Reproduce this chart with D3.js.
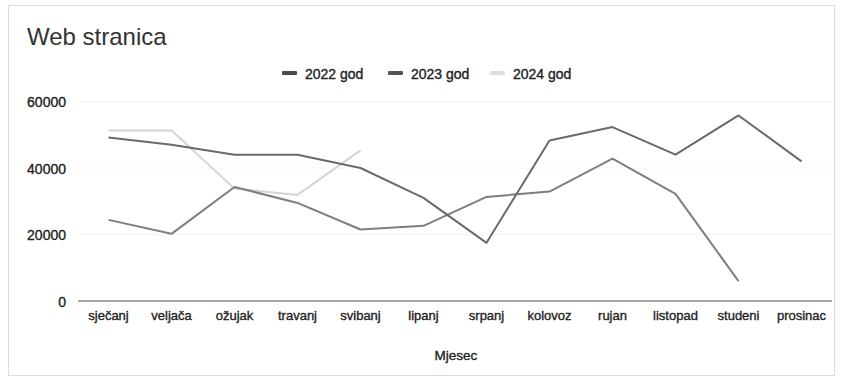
<!DOCTYPE html>
<html>
<head>
<meta charset="utf-8">
<script src="https://cdn.jsdelivr.net/npm/d3@7/dist/d3.min.js"></script>
<style>
  html, body { margin: 0; padding: 0; background: #fff; }
  svg { display: block; font-family: "Liberation Sans", Arial, sans-serif; }
  .lbl { stroke: #222; stroke-width: 0.35px; }
</style>
</head>
<body>
<svg id="chart" width="842" height="380"></svg>
<script>
// Monthly visits to the website, one series per year
const months = ["sječanj", "veljača", "ožujak", "travanj", "svibanj", "lipanj",
                "srpanj", "kolovoz", "rujan", "listopad", "studeni", "prosinac"];
const seriesNames = ["2022 god", "2023 god", "2024 god"];
const values2022 = [49200, 47000, 44000, 44000, 40000, 31000, 17500, 48300, 52300, 44000, 55800, 42000];
const values2023 = [24400, 20200, 34300, 29500, 21500, 22600, 31300, 32900, 42800, 32200, 6000, null];
const values2024 = [51300, 51300, 33800, 31900, 45300, null, null, null, null, null, null, null];
const seriesColors = ["#6a6a6a", "#7e7e7e", "#d4d4d4"];
const legendColors = ["#4a4a4a", "#555555", "#dedede"];
const yTicks = [0, 20000, 40000, 60000];

const svg = d3.select("#chart");
const W = 842, H = 380;

// frame
svg.append("rect")
  .attr("x", 8.5).attr("y", 5.5)
  .attr("width", W - 16).attr("height", H - 10)
  .attr("fill", "#fff").attr("stroke", "#dcdcdc");

const x = d3.scaleBand().domain(months).range([77, 833]);
const y = d3.scaleLinear().domain([0, 60000]).range([301, 101.5]);

// title
svg.append("text")
  .attr("x", 27).attr("y", 45)
  .attr("font-size", 24).attr("fill", "#333")
  .text("Web stranica");

// legend
const legendX = [282, 388, 490];
const legend = svg.append("g");
seriesNames.forEach((name, i) => {
  const g = legend.append("g").attr("transform", `translate(${legendX[i]},73)`);
  g.append("rect").attr("x", 0).attr("y", -2).attr("width", 15).attr("height", 4)
    .attr("rx", 1).attr("fill", legendColors[i]);
  g.append("text").attr("class", "lbl").attr("x", 23).attr("y", 5.5)
    .attr("font-size", 14).attr("fill", "#222").text(name);
});

// gridlines
svg.append("g")
  .selectAll("line")
  .data(yTicks.filter(d => d > 0))
  .join("line")
  .attr("x1", 78).attr("x2", 832)
  .attr("y1", d => y(d)).attr("y2", d => y(d))
  .attr("stroke", "#f3f3f3");

// y axis labels
const yAxis = d3.axisLeft(y).tickValues(yTicks).tickSize(0).tickPadding(0)
  .tickFormat(d3.format("d"));
svg.append("g")
  .attr("transform", "translate(66,0)")
  .call(yAxis)
  .call(g => g.select(".domain").remove())
  .call(g => g.selectAll("text")
    .attr("class", "lbl")
    .attr("font-size", 14)
    .attr("font-family", "Liberation Sans, Arial, sans-serif")
    .attr("fill", "#222").attr("dy", "0.36em"));

// x axis
const xAxis = d3.axisBottom(x).tickSize(0).tickPadding(0);
svg.append("g")
  .attr("transform", `translate(0,${y(0)})`)
  .call(xAxis)
  .call(g => g.select(".domain").attr("d", "M78,0H832").attr("stroke", "#888").attr("stroke-width", 1.5))
  .call(g => g.selectAll("text")
    .attr("class", "lbl")
    .attr("font-size", 13)
    .attr("font-family", "Liberation Sans, Arial, sans-serif")
    .attr("fill", "#222").attr("y", 19).attr("dy", 0));

svg.append("text")
  .attr("class", "lbl")
  .attr("x", 456).attr("y", 360)
  .attr("text-anchor", "middle")
  .attr("font-size", 13.5).attr("fill", "#222")
  .text("Mjesec");

// lines
const cx = d => x(d) + x.bandwidth() / 2;
const line = d3.line()
  .defined(d => d.v !== null)
  .x(d => cx(d.m))
  .y(d => y(d.v));

const allSeries = [values2022, values2023, values2024];
// draw lighter series first so the darker lines sit on top
[2, 1, 0].forEach(i => {
  const data = months.map((m, j) => ({ m, v: allSeries[i][j] }));
  svg.append("path")
    .datum(data)
    .attr("d", line)
    .attr("fill", "none")
    .attr("stroke", seriesColors[i])
    .attr("stroke-width", 2)
    .attr("stroke-linejoin", "round");
});
</script>
</body>
</html>
